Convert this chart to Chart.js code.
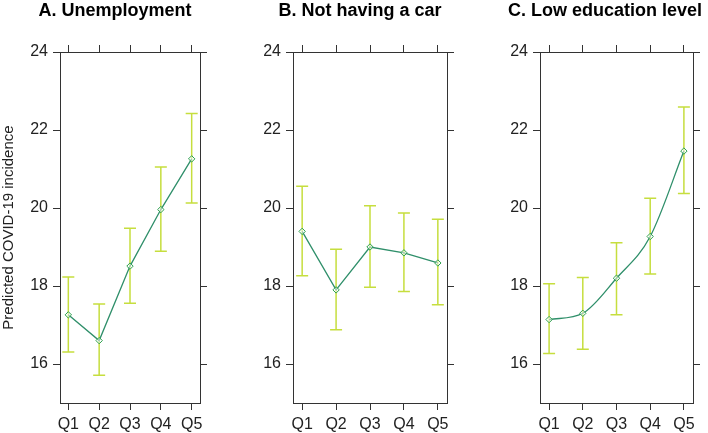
<!DOCTYPE html>
<html>
<head>
<meta charset="utf-8">
<script src="https://cdn.jsdelivr.net/npm/chart.js@4.4.0/dist/chart.umd.min.js"></script>
<style>
  body { margin: 0; background: #fff; overflow: hidden; }
  canvas { position: absolute; top: 0; }
</style>
</head>
<body>
<canvas id="panelA" width="230" height="433" style="left:0px"></canvas>
<canvas id="panelB" width="210" height="433" style="left:255px"></canvas>
<canvas id="panelC" width="210" height="433" style="left:500px"></canvas>
<script>
const quintiles = ['Q1', 'Q2', 'Q3', 'Q4', 'Q5'];
const yTicks = [16, 18, 20, 22, 24];

const unempFit = [17.26, 16.60, 18.51, 19.96, 21.26];
const unempLow = [16.31, 15.71, 17.56, 18.89, 20.13];
const unempHigh = [18.23, 17.54, 19.48, 21.05, 22.42];

const carFit = [19.40, 17.90, 19.00, 18.85, 18.59];
const carLow = [18.26, 16.88, 17.97, 17.86, 17.52];
const carHigh = [20.56, 18.94, 20.06, 19.87, 19.71];

const eduFit = [17.14, 17.30, 18.20, 19.27, 21.46];
const eduLow = [16.27, 16.38, 17.26, 18.31, 20.37];
const eduHigh = [18.06, 18.22, 19.11, 20.25, 22.59];

const FONT = "'Liberation Sans', Arial, sans-serif";
const AXIS_COLOR = '#333333';

// draws the confidence intervals behind the line
const errorBars = {
    id: 'errorBars',
    beforeDatasetsDraw(chart, args, opts) {
        const ctx = chart.ctx;
        const xs = chart.scales.x;
        const ys = chart.scales.y;
        ctx.save();
        ctx.strokeStyle = '#c6de3e';
        ctx.lineWidth = 1.5;
        opts.low.forEach((lo, i) => {
            const x = xs.getPixelForValue(i + 1);
            const y1 = ys.getPixelForValue(lo);
            const y2 = ys.getPixelForValue(opts.high[i]);
            ctx.beginPath();
            ctx.moveTo(x, y1); ctx.lineTo(x, y2);
            ctx.moveTo(x - 6, y1); ctx.lineTo(x + 6, y1);
            ctx.moveTo(x - 6, y2); ctx.lineTo(x + 6, y2);
            ctx.stroke();
        });
        ctx.restore();
    }
};

function fixedTicks(values) {
    return scale => { scale.ticks = values.map(v => ({ value: v })); };
}

function axis(position, showLabels, size, ticks, extra) {
    const horizontal = position === 'top' || position === 'bottom';
    return Object.assign({
        type: 'linear',
        position: position,
        min: horizontal ? 0.73 : 15,
        max: horizontal ? 5.27 : 24,
        afterBuildTicks: fixedTicks(ticks),
        afterFit: s => { if (horizontal) s.height = size; else s.width = size; },
        border: { display: true, color: AXIS_COLOR, width: 1 },
        grid: { drawOnChartArea: false, drawTicks: true, tickLength: 7, tickColor: AXIS_COLOR, tickWidth: 1 },
        ticks: {
            display: showLabels,
            color: '#222',
            padding: horizontal ? 5 : 5,
            maxRotation: 0,
            autoSkip: false,
            font: { family: FONT, size: 16 },
            callback: v => horizontal ? quintiles[v - 1] : v
        }
    }, extra || {});
}

function makePanel(id, title, fit, low, high, opt) {
    new Chart(document.getElementById(id), {
        type: 'line',
        data: {
            datasets: [{
                data: fit.map((v, i) => ({ x: i + 1, y: v })),
                borderColor: '#2f8f6a',
                borderWidth: 1.3,
                pointStyle: 'rectRot',
                pointRadius: 3.2,
                pointBorderWidth: 1,
                pointBorderColor: '#2ea04e',
                pointBackgroundColor: 'rgba(255,255,255,0.5)',
                cubicInterpolationMode: opt.smooth ? 'monotone' : 'default',
                tension: 0
            }]
        },
        options: {
            responsive: false,
            animation: false,
            events: [],
            layout: { padding: 0 },
            plugins: {
                legend: { display: false },
                tooltip: { enabled: false },
                title: {
                    display: true,
                    text: title,
                    color: '#000',
                    font: { family: FONT, size: 18, weight: 'bold' },
                    padding: { top: 0, bottom: 0 }
                },
                errorBars: { low: low, high: high }
            },
            scales: {
                x: axis('bottom', true, 30, [1, 2, 3, 4, 5]),
                x2: axis('top', false, 30.4, [1, 2, 3, 4, 5]),
                y: axis('left', true, opt.leftWidth, yTicks, opt.yTitle ? {
                    title: {
                        display: true,
                        text: opt.yTitle,
                        color: '#222',
                        font: { family: FONT, size: 15 },
                        padding: 0
                    }
                } : {}),
                y2: axis('right', false, opt.rightWidth, yTicks)
            }
        },
        plugins: [errorBars]
    });
}

makePanel('panelA', 'A. Unemployment', unempFit, unempLow, unempHigh,
    { leftWidth: 60, rightWidth: 30, yTitle: 'Predicted COVID-19 incidence' });
makePanel('panelB', 'B. Not having a car', carFit, carLow, carHigh,
    { leftWidth: 38, rightWidth: 18 });
makePanel('panelC', 'C. Low education level', eduFit, eduLow, eduHigh,
    { leftWidth: 40, rightWidth: 17, smooth: true });
</script>
</body>
</html>
